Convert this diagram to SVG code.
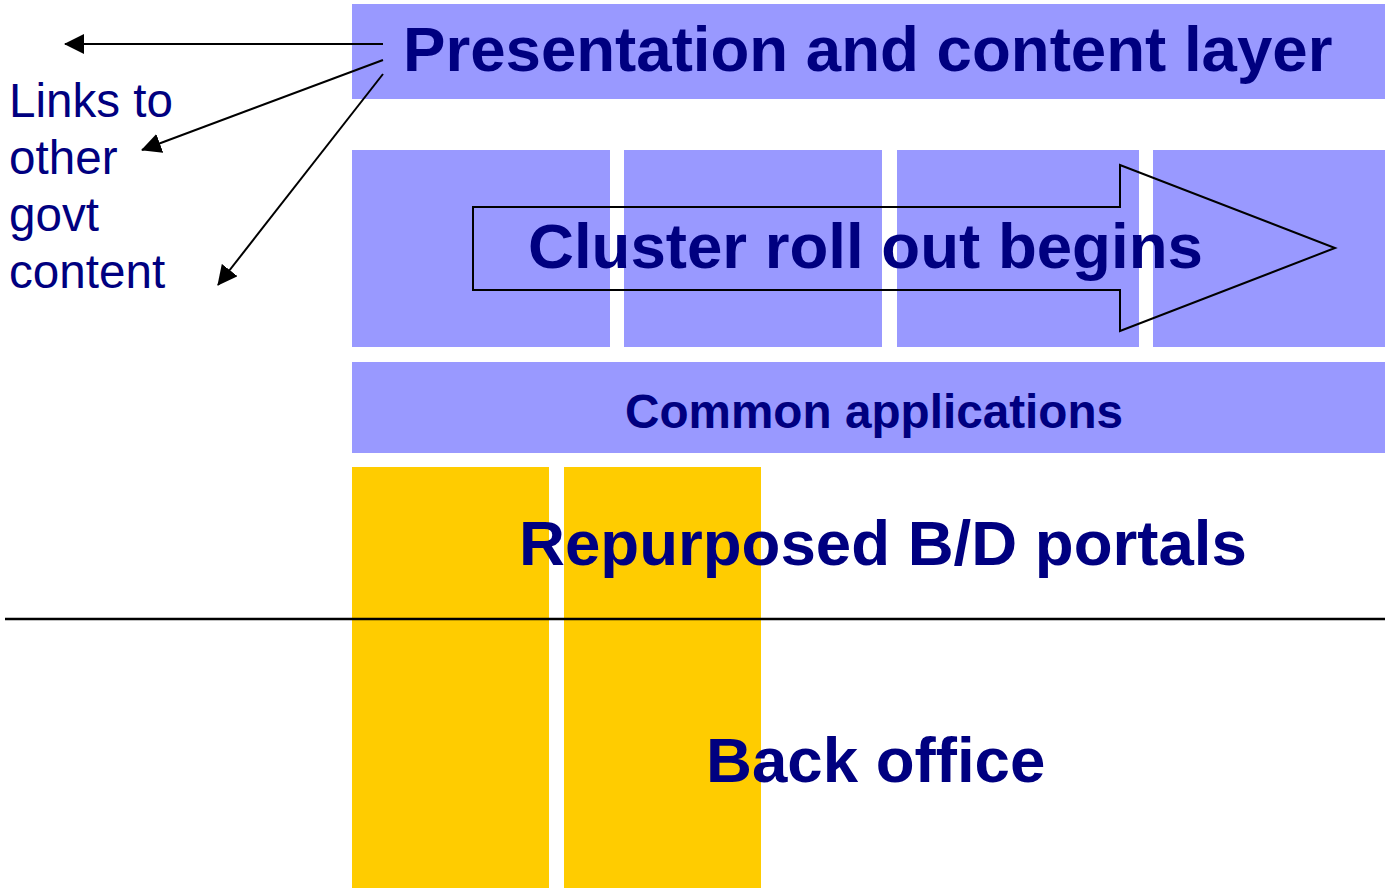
<svg xmlns="http://www.w3.org/2000/svg" width="1385" height="888" viewBox="0 0 1385 888">
  <defs>
    <marker id="head" viewBox="0 0 20 20" refX="19" refY="10" markerWidth="20" markerHeight="20" markerUnits="userSpaceOnUse" orient="auto">
      <path d="M0,0 L20,10 L0,20 Z" fill="#000"/>
    </marker>
    <style>
      .layer { fill: #9999FF; }
      .legacy { fill: #FFCC00; }
      .big { font-family: "Liberation Sans", Arial, sans-serif; font-weight: bold; font-size: 63.6px; fill: #000080; }
      .mid { font-family: "Liberation Sans", Arial, sans-serif; font-weight: bold; font-size: 47.7px; fill: #000080; }
      .note { font-family: "Liberation Sans", Arial, sans-serif; font-size: 47.6px; fill: #000080; }
      .link { stroke: #000; stroke-width: 2; fill: none; marker-end: url(#head); }
    </style>
  </defs>
  <rect width="1385" height="888" fill="#fff"/>

  <g id="presentation-layer">
    <rect class="layer" x="352" y="4" width="1033" height="95"/>
    <text class="big" x="403" y="71">Presentation and content layer</text>
  </g>

  <g id="clusters">
    <rect class="layer" x="352" y="150" width="258" height="197"/>
    <rect class="layer" x="624" y="150" width="258" height="197"/>
    <rect class="layer" x="897" y="150" width="242" height="197"/>
    <rect class="layer" x="1153" y="150" width="232" height="197"/>
  </g>

  <g id="rollout-arrow">
    <path d="M473,207 L1120,207 L1120,165 L1335,248 L1120,331 L1120,290 L473,290 Z" fill="none" stroke="#000" stroke-width="2"/>
    <text class="big" x="528" y="268">Cluster roll out begins</text>
  </g>

  <g id="common-applications">
    <rect class="layer" x="352" y="362" width="1033" height="91"/>
    <text class="mid" x="625" y="428">Common applications</text>
  </g>

  <g id="legacy-columns">
    <rect class="legacy" x="352" y="467" width="197" height="421"/>
    <rect class="legacy" x="564" y="467" width="197" height="421"/>
  </g>

  <g id="portals">
    <text class="big" x="519" y="565">Repurposed B/D portals</text>
  </g>

  <g id="divider">
    <line x1="5" y1="619" x2="1385" y2="619" stroke="#000" stroke-width="2.5"/>
  </g>

  <g id="back-office">
    <text class="big" x="706" y="782">Back office</text>
  </g>

  <g id="links-note">
    <text class="note" x="9" y="117">Links to</text>
    <text class="note" x="9" y="174">other</text>
    <text class="note" x="9" y="231">govt</text>
    <text class="note" x="9" y="288">content</text>
  </g>

  <g id="connectors">
    <line class="link" x1="383" y1="44" x2="65" y2="44"/>
    <line class="link" x1="383" y1="60" x2="142" y2="150"/>
    <line class="link" x1="383" y1="74" x2="218" y2="285"/>
  </g>
</svg>
